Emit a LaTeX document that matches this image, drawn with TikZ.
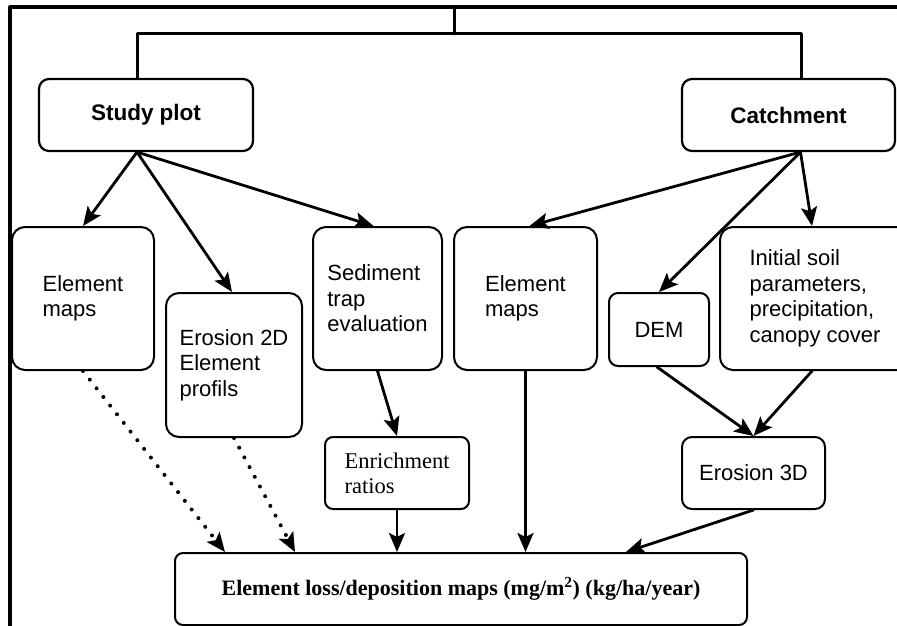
\documentclass[tikz,border=0pt]{standalone}
\usepackage{fontspec}
\setmainfont{Liberation Serif}
\setsansfont{Liberation Sans}
\usetikzlibrary{arrows.meta}

\tikzset{
  box/.style={draw, line width=2pt, rounded corners=13pt, align=left, inner sep=0pt,
    font=\sffamily\fontsize{22}{25.5}\selectfont},
  headbox/.style={box, line width=2.2pt, rounded corners=10pt, minimum width=214pt, minimum height=72pt,
    font=\sffamily\bfseries\fontsize{22.5}{26}\selectfont},
  smallbox/.style={box, rounded corners=9pt, minimum height=72pt},
  flow/.style={line width=2.8pt, -{Stealth[length=19pt,width=16pt,inset=4pt]}},
  dots/.style={flow, line width=4pt, dash pattern=on 0pt off 11pt},
}

\begin{document}
\begin{tikzpicture}[x=1pt,y=-1pt,line cap=round,line join=round]
        \useasboundingbox (0,0) rectangle (897,626);
        \clip (0,0) rectangle (897,626);

        % frame and top split
        \draw[line width=3.2pt] (10,660) |- (920,7);
        \coordinate (root) at (454,7);
        \coordinate (split) at (454,34);

        \node[headbox] (study) at (146,115) {Study plot};
        \node[headbox, minimum width=213pt] (catch) at (788.5,115) {Catchment};

        \draw[line width=3pt] (root) -- (split);
        \draw[line width=3pt] ([xshift=-9pt]study.north) |- (split) -| ([xshift=12.5pt]catch.north);

        % study plot branch
        \node[box, minimum width=142pt, minimum height=143pt] (elemA) at (83,298.5) {Element\\maps};
        \node[box, minimum width=136pt, minimum height=144pt] (ero2d) at (234,365) {Erosion 2D\\Element\\profils};
        \node[box, minimum width=129pt, minimum height=143pt] (sedim) at (377.5,298.5) {Sediment\\trap\\evaluation};
        \node[smallbox, minimum width=144pt, rounded corners=8pt,
              font=\rmfamily\fontsize{22.5}{25}\selectfont] (enrich) at (397,473) {Enrichment\\ratios};

        % catchment branch
        \node[box, minimum width=143pt, minimum height=143pt] (elemB) at (525.5,298.5) {Element\\maps};
        \node[smallbox, minimum width=100pt, minimum height=73pt] (dem) at (659,329.5) {DEM};
        \node[box, minimum width=190pt, minimum height=143pt] (init) at (815,298.5)
            {Initial soil\\parameters,\\precipitation,\\canopy cover};
        \node[smallbox, minimum width=143pt, rounded corners=10pt] (ero3d) at (753.5,473) {Erosion 3D};

        % result
        \node[smallbox, minimum width=572pt, rounded corners=8pt,
              font=\rmfamily\bfseries\fontsize{22}{25}\selectfont] (loss) at (461,589)
            {Element loss/deposition maps (mg/m\textsuperscript{2}) (kg/ha/year)};

        \draw[flow] ([xshift=-9pt]study.south) -- (elemA.north);
        \draw[flow] ([xshift=-9pt]study.south) -- ([xshift=-2pt]ero2d.north);
        \draw[flow] ([xshift=-9pt]study.south) -- ([xshift=-4pt]sedim.north);
        \draw[flow] (sedim.south) -- (enrich.north);
        \draw[flow] (enrich.south) -- (enrich.south |- loss.north);

        \draw[flow] ([xshift=12pt]catch.south) -- ([xshift=4pt]elemB.north);
        \draw[flow] ([xshift=12pt]catch.south) -- (dem.north);
        \draw[flow] ([xshift=12pt]catch.south) -- ([xshift=-3pt]init.north);
        \draw[flow] ([xshift=-2pt]dem.south) -- (ero3d.north);
        \draw[flow] ([xshift=-3pt]init.south) -- (ero3d.north);

        \draw[dots] (elemA.south) -- ([xshift=-236pt]loss.north);
        \draw[dots] (ero2d.south) -- ([xshift=-166pt]loss.north);
        \draw[flow] (elemB.south) -- (elemB.south |- loss.north);
        \draw[flow] (ero3d.south) -- ([xshift=165pt]loss.north);
    \end{tikzpicture}
\end{document}
